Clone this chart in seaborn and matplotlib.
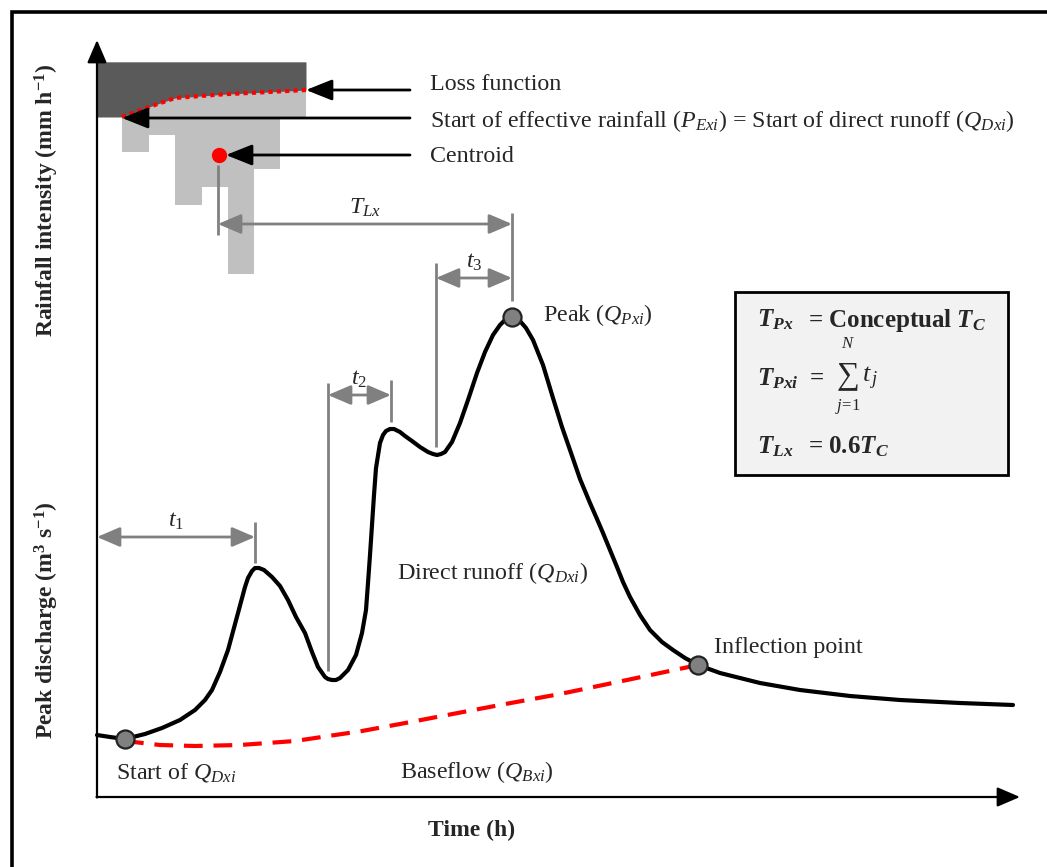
import matplotlib
matplotlib.use("Agg")
import matplotlib.pyplot as plt
from matplotlib.patches import Rectangle
import numpy as np
import seaborn as sns

# ---------------- data (time units ~ h, discharge units arbitrary) ----------------
hydro_t = [0.0, 1.3, 2.8, 4.8, 6.5, 8.3, 9.8, 10.8, 11.5, 12.3, 13.1, 14.1, 14.8, 15.1, 15.5,
           15.8, 16.2, 16.7, 17.5, 18.3, 19.1, 19.9, 20.8, 21.5, 22.1, 22.8, 23.1, 23.5, 23.9,
           24.3, 25.1, 25.9, 26.5, 26.9, 27.1, 27.3, 27.5, 27.7, 27.9, 28.3, 28.6, 28.9, 29.3,
           29.7, 30.3, 30.8, 31.5, 32.3, 33.1, 33.6, 34.0, 34.4, 34.8, 35.5, 36.3, 37.1, 38.0,
           38.8, 39.6, 40.3, 40.8, 41.2, 41.5, 41.9, 42.3, 42.9, 43.6, 44.6, 45.6, 46.5, 47.3,
           48.3, 49.3, 50.0, 50.6, 51.3, 52.0, 52.6, 53.3, 54.3, 55.3, 56.5, 57.6, 58.8, 60.1,
           62.3, 66.3, 70.3, 75.3, 80.3, 86.3, 91.6]
hydro_q = [6.2, 6.0, 5.8, 6.3, 6.9, 7.7, 8.7, 9.7, 10.7, 12.5, 14.7, 18.4, 21.0, 21.9, 22.6,
           22.9, 22.9, 22.7, 22.0, 21.1, 19.7, 18.0, 16.4, 14.5, 13.0, 12.0, 11.8, 11.7, 11.7,
           11.9, 12.7, 14.2, 16.4, 18.7, 21.4, 24.2, 27.2, 30.2, 32.9, 35.4, 36.2, 36.6, 36.8,
           36.8, 36.5, 36.1, 35.6, 35.0, 34.5, 34.3, 34.2, 34.3, 34.5, 35.5, 37.4, 39.7, 42.4,
           44.5, 46.2, 47.2, 47.7, 47.95, 48.0, 47.9, 47.6, 46.9, 45.7, 43.2, 39.9, 37.0, 34.7,
           31.8, 29.4, 27.8, 26.4, 24.7, 23.0, 21.5, 20.0, 18.2, 16.7, 15.5, 14.7, 13.9, 13.2,
           12.4, 11.4, 10.7, 10.1, 9.7, 9.4, 9.2]

base_t = [2.8, 6.3, 9.8, 14.3, 19.8, 26.5, 30.3, 34.5, 40.3, 46.3, 53.0, 60.1]
base_q = [5.6, 5.2, 5.1, 5.2, 5.6, 6.6, 7.3, 8.1, 9.2, 10.3, 11.7, 13.2]

key_t = [2.8, 41.5, 60.1]          # start of direct runoff, peak, inflection point
key_q = [5.8, 48.0, 13.2]

rain_start = [0.0, 2.5, 5.15, 7.8, 10.45, 13.1, 15.7, 18.3]
rain_end = 20.9
rain_depth = [5.5, 9.0, 7.3, 14.3, 12.5, 21.2, 10.7, 5.5]
rain_top = 73.5

loss_t = [0.0, 2.5, 5.2, 7.8, 12.6, 16.6, 20.9]
loss_depth = [5.5, 5.5, 4.5, 3.6, 3.23, 3.03, 2.8]

centroid_t, centroid_q = 12.2, 64.2

interval_start = [0.0, 23.1, 33.9, 12.1]
interval_end = [15.8, 29.4, 41.5, 41.5]
interval_y = [26.0, 40.2, 51.9, 57.3]
interval_lbl = [r"$t_1$", r"$t_2$", r"$t_3$", r"$T_{Lx}$"]

# ---------------- style ----------------
sns.set_theme(style="white")
plt.rcParams["font.family"] = ["Liberation Serif", "DejaVu Serif"]
plt.rcParams["mathtext.fontset"] = "custom"
plt.rcParams["mathtext.rm"] = "Liberation Serif"
plt.rcParams["mathtext.it"] = "Liberation Serif:italic"
plt.rcParams["mathtext.bf"] = "Liberation Serif:bold"
plt.rcParams["mathtext.bfit"] = "Liberation Serif:italic:bold"
plt.rcParams["mathtext.fallback"] = "stix"

GRAY = "#808080"
fig = plt.figure(figsize=(10.47, 8.67), dpi=100)
ax = fig.add_axes([0, 0, 1, 1])
ax.set_xlim(-9.7, 95.0)
ax.set_ylim(-7.0, 79.7)
ax.axis("off")

# outer frame (left and top)
ax.plot([-8.5, -8.5, 96], [-8, 78.5, 78.5], color="black", lw=2.6, solid_joinstyle="miter",
        clip_on=False)

# axes arrows
axis_kw = dict(arrowstyle="-|>,head_length=0.7,head_width=0.3", color="black", lw=1.6,
               mutation_scale=20, shrinkA=0, shrinkB=0)
ax.annotate("", xy=(92.3, 0), xytext=(-0.05, 0), arrowprops=axis_kw)
ax.annotate("", xy=(0, 75.7), xytext=(0, -0.05), arrowprops=axis_kw)

# hyetograph
widths = np.diff(rain_start + [rain_end])
bottoms = [rain_top - d for d in rain_depth]
ax.bar(rain_start, rain_depth, width=widths, bottom=bottoms, align="edge",
       color="#c0c0c0", linewidth=0, zorder=1)
ax.fill_between(loss_t, [rain_top - d for d in loss_depth], rain_top, color="#5a5a5a",
                linewidth=0, zorder=2)
ax.plot(loss_t[1:], [rain_top - d for d in loss_depth[1:]], color="red", lw=3.0,
        linestyle=(0, (1, 1)), zorder=3)
ax.plot([centroid_t], [centroid_q], "o", color="red", ms=10, zorder=4)

# black pointer arrows
ptr_kw = dict(arrowstyle="-|>,head_length=0.8,head_width=0.32", color="black", lw=2,
              mutation_scale=20, shrinkA=0, shrinkB=0)
ax.annotate("", xy=(20.9, 70.7), xytext=(31.3, 70.7), arrowprops=ptr_kw)
ax.annotate("", xy=(2.5, 67.9), xytext=(31.3, 67.9), arrowprops=ptr_kw)
ax.annotate("", xy=(12.9, 64.2), xytext=(31.3, 64.2), arrowprops=ptr_kw)
fs = 17.3
ax.text(33.3, 71.3, "Loss function", fontsize=fs, va="center")
ax.text(33.3, 67.6, r"Start of effective rainfall ($P_{Exi}$) = Start of direct runoff ($Q_{Dxi}$)",
        fontsize=fs, va="center")
ax.text(33.3, 64.0, "Centroid", fontsize=fs, va="center")

# gray reference lines
vl_t = [12.1, 41.5, 33.9, 23.1, 29.4, 15.8]
vl_lo = [56.2, 49.6, 35.0, 12.6, 37.5, 23.4]
vl_hi = [63.2, 58.4, 53.4, 41.4, 41.7, 27.5]
ax.vlines(vl_t, vl_lo, vl_hi, color=GRAY, lw=2, zorder=2)
dbl_kw = dict(arrowstyle="<|-|>,head_length=0.7,head_width=0.3", color=GRAY, lw=2,
              mutation_scale=20, shrinkA=0, shrinkB=0)
for a, b, y, lbl in zip(interval_start, interval_end, interval_y, interval_lbl):
    ax.annotate("", xy=(b, y), xytext=(a, y), arrowprops=dbl_kw)
    ax.text((a + b) / 2, y + 1.6, lbl, fontsize=fs, ha="center", va="center")

# hydrograph and baseflow
sns.lineplot(x=hydro_t, y=hydro_q, ax=ax, color="black", lw=3.0, zorder=5)
ax.plot(base_t, base_q, color="red", lw=3.0, linestyle=(0, (4.5, 2.6)), zorder=4)
ax.plot(key_t, key_q, "o", ms=13, mfc=GRAY, mec="#222222", mew=1.6, zorder=6)

ax.text(44.6, 48.2, r"Peak ($Q_{Pxi}$)", fontsize=fs, va="center")
ax.text(30.0, 22.4, r"Direct runoff ($Q_{Dxi}$)", fontsize=fs, va="center")
ax.text(61.7, 15.0, "Inflection point", fontsize=fs, va="center")
ax.text(1.9, 2.5, r"Start of $Q_{Dxi}$", fontsize=fs, va="center")
ax.text(30.3, 2.5, r"Baseflow ($Q_{Bxi}$)", fontsize=fs, va="center")

# axis labels
ax.text(37.5, -3.3, "Time (h)", fontsize=17, fontweight="bold", ha="center", va="center")
ax.text(-5.0, 59.7, r"Rainfall intensity (mm h$^{\mathbf{-1}}$)", fontsize=17,
        fontweight="bold", rotation=90, ha="center", va="center")
ax.text(-5.0, 17.7, r"Peak discharge (m$^{\mathbf{3}}$ s$^{\mathbf{-1}}$)", fontsize=17,
        fontweight="bold", rotation=90, ha="center", va="center")

# equation box
ax.add_patch(Rectangle((63.8, 32.2), 27.3, 18.3, facecolor="#f2f2f2", edgecolor="black",
                       lw=2, zorder=3))
bfs = 18
ax.text(66.0, 47.7, r"$\mathbfit{T}_{\mathbfit{Px}}$", fontsize=bfs, va="center", zorder=4)
ax.text(71.1, 47.7, r"= Conceptual $\mathbfit{T}_{\mathbfit{C}}$", fontsize=bfs,
        fontweight="bold", va="center", zorder=4)
ax.text(66.0, 41.8, r"$\mathbfit{T}_{\mathbfit{Pxi}}$", fontsize=bfs, va="center", zorder=4)
ax.text(72.0, 41.9, "=", fontsize=bfs, fontweight="bold", ha="center", va="center", zorder=4)
ax.text(75.1, 42.1, "\u2211", fontsize=23, ha="center", va="center", zorder=4)
ax.text(75.1, 45.3, r"$N$", fontsize=12, ha="center", va="center", zorder=4)
ax.text(75.1, 39.1, r"$j\!=\!1$", fontsize=12, ha="center", va="center", zorder=4)
ax.text(76.5, 41.9, r"$t_{\,j}$", fontsize=19, va="center", zorder=4)
ax.text(66.0, 35.0, r"$\mathbfit{T}_{\mathbfit{Lx}}$", fontsize=bfs, va="center", zorder=4)
ax.text(71.1, 35.0, r"= 0.6$\mathbfit{T}_{\mathbfit{C}}$", fontsize=bfs, fontweight="bold",
        va="center", zorder=4)

fig.savefig("out.png", dpi=100)
